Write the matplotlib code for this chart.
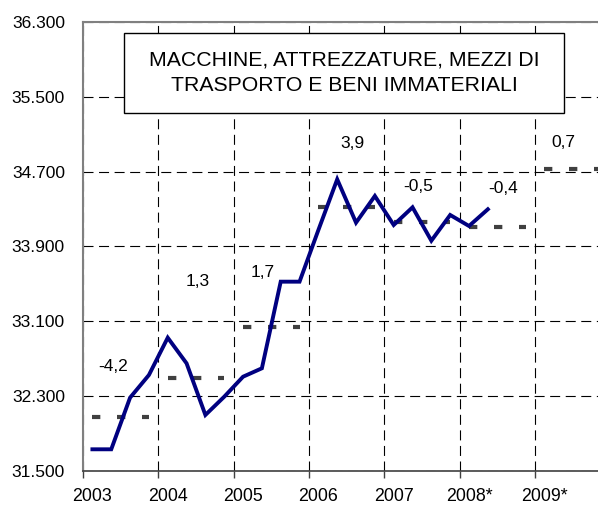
import matplotlib
matplotlib.use("Agg")
import matplotlib.pyplot as plt
from matplotlib.patches import Rectangle
import numpy as np

plt.rcParams["font.family"] = ["Liberation Sans", "DejaVu Sans"]

# quarterly series, 2003 Q1 .. 2008 Q2
quarter_values = [31732, 31732, 32284, 32526,
                  32925, 32651, 32099, 32294,
                  32508, 32598, 33524, 33524,
                  34076, 34618, 34155, 34440,
                  34130, 34319, 33962, 34237,
                  34119, 34298]

# annual averages (dashed segments)
years = ["2003", "2004", "2005", "2006", "2007", "2008*", "2009*"]
annual_avg = [32075, 32490, 33038, 34320, 34158, 34105, 34725]

# growth rates shown above each year
growth_labels = ["-4,2", "1,3", "1,7", "3,9", "-0,5", "-0,4", "0,7"]
growth_x = [1.1, 5.6, 9.05, 13.8, 17.3, 21.8, 25.0]
growth_y = [32615, 33521, 33620, 34996, 34539, 34518, 35010]

y_ticks = [31500, 32300, 33100, 33900, 34700, 35500, 36300]
y_ticklabels = ["31.500", "32.300", "33.100", "33.900", "34.700", "35.500", "36.300"]

fig = plt.figure(figsize=(5.98, 5.07), dpi=100)
ax = fig.add_axes([83 / 598, 1 - 471 / 507, 1 - 83 / 598, (471 - 22) / 507])

# annual averages: dashed gray bars spanning the four quarters of each year
for i, v in enumerate(annual_avg):
    x0, x1 = 4 * i, 4 * i + 3
    if i == len(annual_avg) - 1:
        x1 = 4 * i + 4
    ax.plot([x0, x1], [v, v], color="#404040", lw=3.0,
            dashes=(2.0, 4.0), solid_capstyle="butt", zorder=3)

ax.plot(np.arange(len(quarter_values)), quarter_values, color="#000080",
        lw=2.8, solid_joinstyle="miter", zorder=4)

for lab, gx, gy in zip(growth_labels, growth_x, growth_y):
    ax.text(gx, gy, lab, ha="center", va="center", fontsize=12.5, color="black")

ax.set_xlim(-0.5, 26.85)
ax.set_ylim(31500, 36300)

# year labels at Q1 positions, boundaries as minor ticks + grid
ax.set_xticks([4 * i for i in range(len(years))])
ax.set_xticklabels(years, fontsize=12.8)
ax.tick_params(axis="x", which="major", length=0, pad=12)
ax.set_xticks([4 * i - 0.5 for i in range(len(years))], minor=True)
ax.tick_params(axis="x", which="minor", length=5, width=1, color="#404040",
               direction="out")
ax.grid(axis="x", which="minor", color="black", lw=0.8, ls=(0, (9, 5)))

ax.set_yticks(y_ticks)
ax.set_yticklabels(y_ticklabels, fontsize=12.5)
ax.tick_params(axis="y", length=0, pad=13)
ax.grid(axis="y", which="major", color="black", lw=0.8, ls=(0, (9, 5)))
ax.set_axisbelow(True)

for side in ["left", "top"]:
    ax.spines[side].set_color("#808080")
    ax.spines[side].set_linewidth(1.5)
ax.spines["bottom"].set_color("#404040")
ax.spines["bottom"].set_linewidth(1.2)
ax.spines["right"].set_visible(False)

# title box
fig.patches.append(Rectangle((124 / 598, 1 - 113 / 507), 440 / 598, 80 / 507,
                             transform=fig.transFigure, fc="white", ec="black",
                             lw=1.0, zorder=10))
fig.text(344 / 598, 1 - 73 / 507,
         "MACCHINE, ATTREZZATURE, MEZZI DI\nTRASPORTO E BENI IMMATERIALI",
         ha="center", va="center", fontsize=15.3, linespacing=1.42, zorder=11)

fig.savefig("out.png", dpi=100)
